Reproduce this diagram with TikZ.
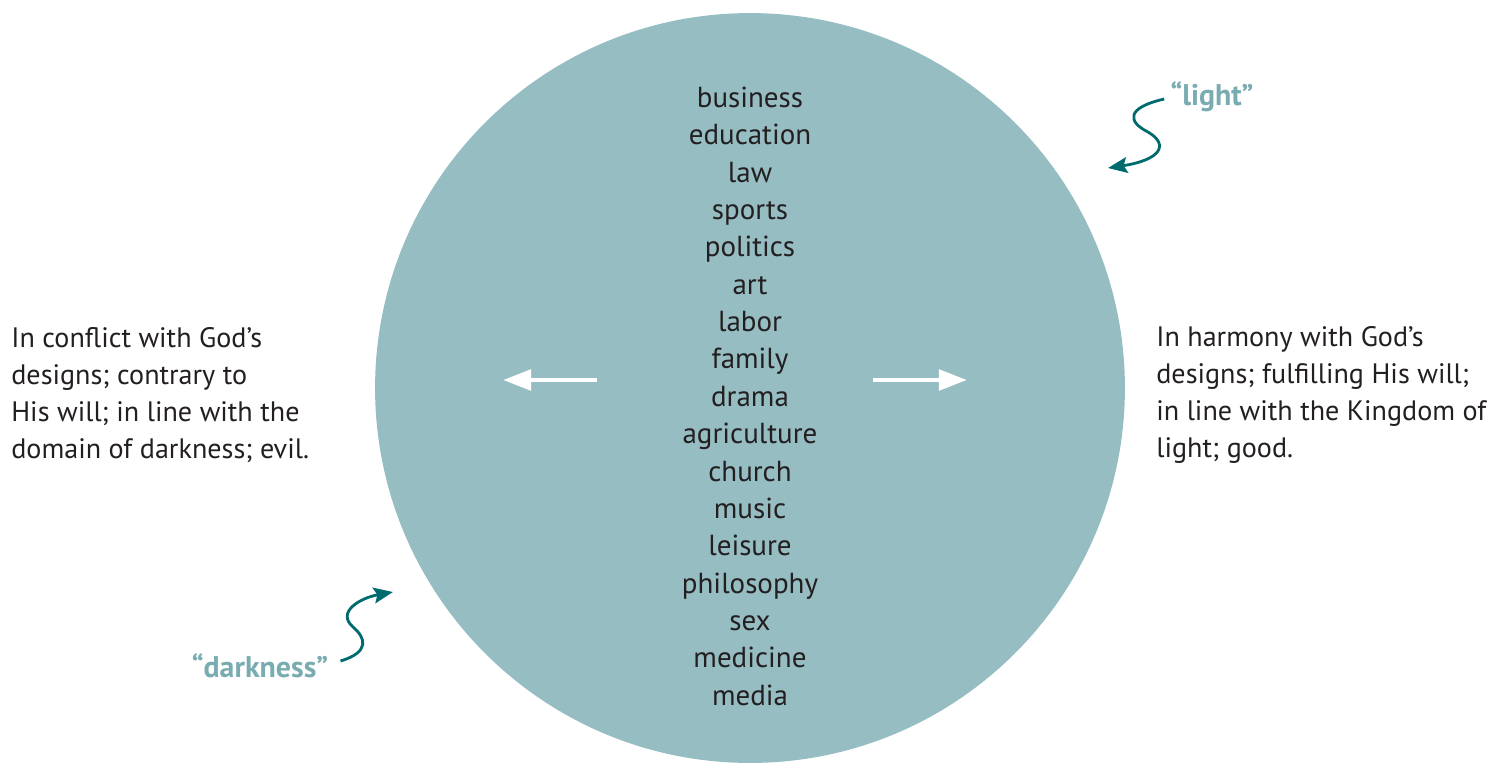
\documentclass[tikz,border=0pt]{standalone}
\usepackage{fontspec}
\setmainfont{PT Sans}
\usetikzlibrary{arrows.meta, positioning, calc}
\definecolor{sphere}{HTML}{96BDC2}
\definecolor{tealdark}{HTML}{006B6E}
\definecolor{teallight}{HTML}{79ACB1}
\definecolor{ink}{HTML}{231F20}

\begin{document}
\begin{tikzpicture}[x=0.02cm, y=-0.02cm,
    word/.style={font=\fontsize{16.5}{20}\selectfont, text=ink, inner sep=0pt},
    side/.style={word, align=left, font=\fontsize{16}{21.1}\selectfont},
    tag/.style={font=\fontsize{17}{20}\selectfont\bfseries, text=teallight, inner sep=0pt},
    push/.style={white, line width=2.8pt, -{Triangle[length=16pt,width=11.5pt]}},
    squiggle/.style={tealdark, line width=1.6pt, -{Stealth[length=11pt,width=9pt,inset=2pt]}}]
    \useasboundingbox (0,0) rectangle (1502,762);
    \fill[sphere] (750,388) circle[radius=7.5cm];
    % the spheres of life
    \foreach \w [count=\i from 0] in {business, education, law, sports, politics, art, labor, family, drama, agriculture, church, music, leisure, philosophy, sex, medicine, media}
        \node[word, anchor=base] (w\i) at (750, 107.5+37.35*\i) {\w};
    % pulled both ways
    \coordinate (lfrom) at (597,380);
    \coordinate (lto) at (503,380);
    \coordinate (rfrom) at (873,380);
    \coordinate (rto) at (967,380);
    \draw[push] (lfrom) -- (lto);
    \draw[push] (rfrom) -- (rto);
    \node[side, anchor=west] (evil) at (11,395) {In conflict with God’s\\designs; contrary to\\His will; in line with the\\domain of darkness; evil.};
    \node[side, anchor=west] (good) at (1156,395) {In harmony with God’s\\designs; fulfilling His will;\\in line with the Kingdom of\\light; good.};
    % light and darkness
    \node[tag] (light) at (1212,97) {“light”};
    \node[tag] (dark) at (260,666) {“darkness”};
    \coordinate (lighttip) at (1108,168);
    \coordinate (darktip) at (393,592);
    \draw[squiggle] (light.west) ++(-6,2) .. controls (1125,108) and (1128,122) .. (1148,132)
        .. controls (1170,145) and (1160,160) .. (lighttip);
    \draw[squiggle] (dark.east) ++(12,-5) .. controls (370,652) and (366,638) .. (353,627)
        .. controls (336,612) and (360,598) .. (darktip);
\end{tikzpicture}
\end{document}
